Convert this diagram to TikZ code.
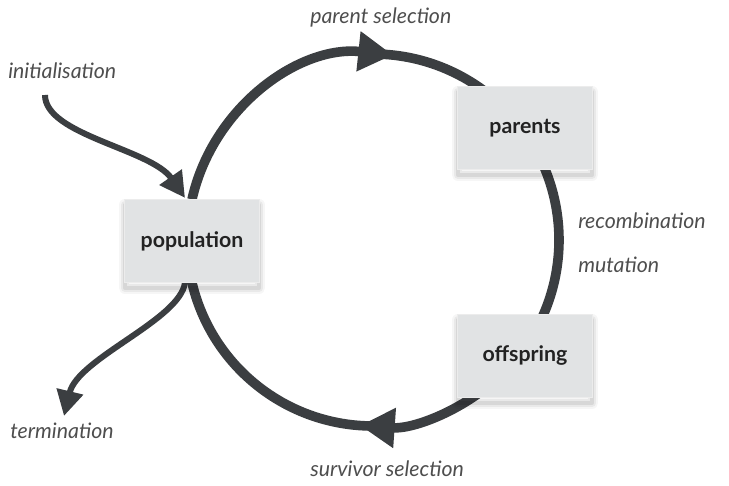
\documentclass[tikz,border=0pt]{standalone}
\usepackage{fontspec}
\setmainfont{Lato}
\usetikzlibrary{arrows.meta,backgrounds,calc}
\definecolor{ringc}{HTML}{3B3E41}
\definecolor{labc}{HTML}{4E4E4E}
\definecolor{boxc}{HTML}{E1E3E4}
\definecolor{boxt}{HTML}{222222}
\tikzset{
  box/.style={fill=boxc, draw=white!85!gray, line width=0.4pt,
    minimum width=101pt, minimum height=62pt, inner sep=0pt,
    text=boxt, font=\fontsize{16}{18}\selectfont\bfseries,
    preaction={draw=black, line join=round, line width=9pt, draw opacity=0.035, transform canvas={yshift=-4pt}},
    preaction={draw=black, line join=round, line width=6pt, draw opacity=0.05, transform canvas={yshift=-4pt}},
    preaction={draw=black, line join=round, line width=3pt, draw opacity=0.08, transform canvas={yshift=-4pt}}},
  lab/.style={text=labc, font=\fontsize{16}{18}\selectfont\itshape, inner sep=0pt, anchor=base west},
  ring/.style={draw=ringc, line width=7.2pt},
  thin/.style={draw=ringc, line width=4.5pt},
  bigtip/.style={-{Triangle[length=26pt,width=28.5pt]}},
  smalltip/.style={-{Triangle[length=19pt,width=19.5pt]}}
}
\begin{document}
\begin{tikzpicture}[x=0.75pt,y=0.75pt]
\useasboundingbox (0,0) rectangle (729,486);
% boxes
\node[box] (pop) at (192,245) {population};
\node[box] (par) at (525,358) {parents};
\node[box] (off) at (525,130) {offspring};
% labels
\node[lab] (lps) at (310,462) {parent selection};
\node[lab] (lini) at (8,407) {initialisation};
\node[lab] (lrec) at (578,257) {recombination};
\node[lab] (lmut) at (578,213) {mutation};
\node[lab] (lter) at (10,47) {termination};
\node[lab] (lsur) at (310,9) {survivor selection};
% ring geometry
\coordinate (C) at (373,246);
\path (C) ++(88:186) coordinate (ps);
\path (C) ++(40:186) coordinate (pa);
\path (C) ++(-45:186) coordinate (oc);
\path (C) ++(-88:186) coordinate (ss);
\coordinate (i0) at (45,391);
\begin{scope}[on background layer]
\draw[ring,bigtip] (pop.north) arc[start angle=167.4, end angle=84, radius=186];
\draw[ring] (ps) arc[start angle=88, end angle=40, radius=186];
\draw[ring] (pa) arc[start angle=40, end angle=-45, radius=186];
\draw[ring,bigtip] (oc) arc[start angle=-45, end angle=-94, radius=186];
\draw[ring] (ss) arc[start angle=-88, end angle=-167.4, radius=186];
\draw[thin,smalltip] (i0) .. controls (45,351) and (151,337) .. ($(pop.north)+(-7,1.5)$);
\draw[thin,smalltip] ($(pop.south)+(-7,0)$) .. controls (180,166) and (78,128) .. (64,70);
\end{scope}
\end{tikzpicture}
\end{document}
